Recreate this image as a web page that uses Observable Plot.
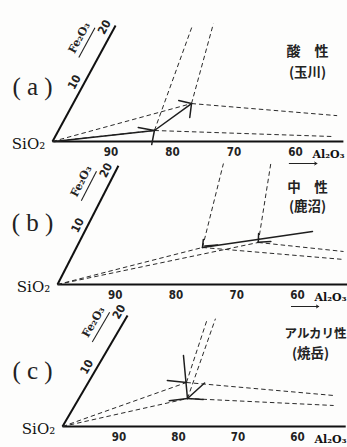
<!DOCTYPE html>
<html><head><meta charset="utf-8">
<script src="https://cdn.jsdelivr.net/npm/d3@7"></script>
<script src="https://cdn.jsdelivr.net/npm/@observablehq/plot@0.6"></script>
<style>
body{margin:0;background:#fdfdfc;}
#wrap{position:relative;width:347px;height:447px;overflow:hidden;background:#fdfdfc}
#wrap svg{position:absolute;left:0;background:transparent}
</style></head><body><div id="wrap"></div>
<script>
// ---- data (diagram coordinates: s = reading on bottom axis, f = Fe2O3) ----
const panelNames = ["( a )", "( b )", "( c )"];
const typeLabels = ["酸　性", "中　性", "アルカリ性"];
const siteLabels = ["(玉川)", "(鹿沼)", "(焼岳)"];
const sTicks = [90, 80, 70, 60];
const feTicks = [10, 20];

// panel (a) 酸性 玉川
const pointsA = [{s: 84.4, f: 2.0}, {s: 80.75, f: 6.9}];
const alEndA  = [{s: 54.75, f: 0.9}, {s: 56.0, f: 4.7}];
const feEndA  = [{s: 87.5, f: 21.1}, {s: 84.25, f: 21.4}];
const arrowsA = [
  {s1: 84.4, f1: 2.0, s2: 99.7, f2: 0.0, bend: -6},
  {s1: 84.4, f1: 2.0, s2: 80.75, f2: 6.9, bend: 8},
  {s1: 84.4, f1: 2.0, s2: 83.6, f2: -0.55, bend: 0},
  {s1: 84.4, f1: 2.0, s2: 87.3, f2: 2.55, bend: 0},
  {s1: 80.75, f1: 6.9, s2: 79.8, f2: 4.36, bend: 0},
  {s1: 80.75, f1: 6.9, s2: 83.1, f2: 7.45, bend: 0}
];

// panel (b) 中性 鹿沼
const pointsB = [{s: 79.26, f: 6.73}, {s: 70.5, f: 7.64}];
const alEndB  = [{s: 55.0, f: 4.55}, {s: 55.7, f: 6.0}];
const feEndB  = [{s: 82.9, f: 22.0}, {s: 75.1, f: 22.0}];
const arrowsB = [
  {s1: 79.26, f1: 6.73, s2: 62.5, f2: 9.64, bend: 0},
  {s1: 79.26, f1: 6.73, s2: 79.8, f2: 8.2, bend: 0},
  {s1: 70.5, f1: 7.64, s2: 71.2, f2: 9.27, bend: 0},
  {s1: 77.0, f1: 7.2, s2: 79.0, f2: 7.0, bend: 0},
  {s1: 68.5, f1: 7.8, s2: 70.6, f2: 7.7, bend: 0}
];

// panel (c) アルカリ性 焼岳
const pointsC = [{s: 83.5, f: 8.0}, {s: 81.75, f: 5.09}];
const alEndC  = [{s: 57.5, f: 5.64}, {s: 56.5, f: 3.82}];
const feEndC  = [{s: 86.25, f: 19.6}, {s: 84.9, f: 19.6}];
const arrowsC = [
  {s1: 81.75, f1: 5.09, s2: 86.65, f2: 12.9, bend: 0},
  {s1: 83.5, f1: 8.0, s2: 86.9, f2: 8.36, bend: 0},
  {s1: 81.75, f1: 5.09, s2: 79.0, f2: 4.9, bend: 0},
  {s1: 81.75, f1: 5.09, s2: 84.6, f2: 4.7, bend: 0},
  {s1: 81.75, f1: 5.09, s2: 80.4, f2: 7.9, bend: 0}
];

// ---- layout (pixels) ----
const cfgs = [
  {top: 0,   h: 149, ox: 52, oy: 141, ku: 6.15,  kfy: 5.5, kfx: 2.99, sMin: 52.7, feMax: 21.1,
   pts: pointsA, al: alEndA, fe: feEndA, arr: arrowsA, underline: true,
   letterY: 86, typeX: 307, typeY: 51, siteX: 307, siteY: 72, typeSize: 14},
  {top: 149, h: 149, ox: 57, oy: 135, ku: 6.075, kfy: 5.5, kfx: 2.82, sMin: 52.3, feMax: 21.6,
   pts: pointsB, al: alEndB, fe: feEndB, arr: arrowsB, underline: true,
   letterY: 73, typeX: 307, typeY: 38, siteX: 307, siteY: 57, typeSize: 13.5},
  {top: 298, h: 149, ox: 62, oy: 128, ku: 5.95,  kfy: 5.5, kfx: 3.22, sMin: 52.4, feMax: 20.2,
   pts: pointsC, al: alEndC, fe: feEndC, arr: arrowsC, underline: false,
   letterY: 72, typeX: 315, typeY: 35, siteX: 310, siteY: 55, typeSize: 12.5}
];

const ink = "#2a2a2a";
const dash = "4.5,3";
const cjk = "'Noto Sans CJK JP', sans-serif";

cfgs.forEach((c, i) => {
  const X = (s, f) => (100 - s) + f * c.kfx / c.ku;
  const ang = Math.atan2(c.kfy, c.kfx) * 180 / Math.PI; // axis angle
  const rad = ang * Math.PI / 180;
  const nx = -Math.sin(rad), ny = -Math.cos(rad); // left normal (screen)
  const origin = {s: 100, f: 0};
  const lines = (ends) => c.pts.map((p, j) => ({p, e: ends[j]}));
  const marks = [
    Plot.link([{a: origin, b: {s: c.sMin, f: 0}}], {
      x1: d => X(d.a.s, d.a.f), y1: d => d.a.f, x2: d => X(d.b.s, d.b.f), y2: d => d.b.f,
      stroke: "#111", strokeWidth: 2.2}),
    Plot.link([{a: origin, b: {s: 100, f: c.feMax}}], {
      x1: d => X(d.a.s, d.a.f), y1: d => d.a.f, x2: d => X(d.b.s, d.b.f), y2: d => d.b.f,
      stroke: "#111", strokeWidth: 2}),
    Plot.link(c.pts, {x1: X(100, 0), y1: 0, x2: d => X(d.s, d.f), y2: d => d.f,
      stroke: ink, strokeWidth: 1, strokeDasharray: dash}),
    Plot.link(lines(c.al), {x1: d => X(d.p.s, d.p.f), y1: d => d.p.f, x2: d => X(d.e.s, d.e.f), y2: d => d.e.f,
      stroke: ink, strokeWidth: 1, strokeDasharray: dash}),
    Plot.link(lines(c.fe), {x1: d => X(d.p.s, d.p.f), y1: d => d.p.f, x2: d => X(d.e.s, d.e.f), y2: d => d.e.f,
      stroke: ink, strokeWidth: 1, strokeDasharray: dash}),
    Plot.arrow(c.arr, {x1: d => X(d.s1, d.f1), y1: d => d.f1, x2: d => X(d.s2, d.f2), y2: d => d.f2,
      bend: d => d.bend, stroke: "#1e1e1e", strokeWidth: 1.5, headLength: 7, headAngle: 40}),
    Plot.text(sTicks, {x: d => X(d, 0), y: 0, dx: -3, dy: 11, text: d => String(d),
      fontFamily: "'DejaVu Sans Condensed', 'Liberation Sans Narrow', sans-serif", fontWeight: "bold",
      fontSize: 11.5, fill: "#222"}),
    Plot.text(feTicks, {x: d => X(100, d), y: d => d, dx: nx * 9, dy: ny * 9, text: d => String(d),
      rotate: -ang, fontFamily: "'DejaVu Sans Condensed', sans-serif", fontWeight: "bold",
      fontSize: 11.5, fill: "#222"}),
    Plot.text(["Fe₂O₃"], {x: X(100, 16.6), y: 16.6, dx: nx * 26, dy: ny * 26, rotate: -ang,
      fontFamily: "'DejaVu Serif', serif", fontWeight: "bold", fontSize: 11, fill: "#222"}),
    Plot.link([0], {x1: X(100, 13.8), y1: 13.8, x2: X(100, 19.2), y2: 19.2,
      dx: nx * 17, dy: ny * 17, stroke: "#222", strokeWidth: 1.1}),
    Plot.text(["SiO₂"], {x: X(100, 0), y: 0, dx: -24, dy: 3,
      fontFamily: "'DejaVu Serif', serif", fontSize: 15, fill: "#111"}),
    Plot.text(["Al₂O₃"], {x: X(60, 0), y: 0, dx: 30, dy: 13,
      fontFamily: "'DejaVu Serif', serif", fontWeight: "bold", fontSize: 11, fill: "#111"}),
    Plot.text([panelNames[i]], {frameAnchor: "top-left", dx: 32, dy: c.letterY,
      textAnchor: "middle", lineAnchor: "middle",
      fontFamily: "'Liberation Serif', serif", fontSize: 25, fill: "#222"}),
    Plot.text([typeLabels[i]], {frameAnchor: "top-left", dx: c.typeX, dy: c.typeY,
      textAnchor: "middle", lineAnchor: "middle",
      fontFamily: cjk, fontWeight: "bold", fontSize: c.typeSize, fill: "#222"}),
    Plot.text([siteLabels[i]], {frameAnchor: "top-left", dx: c.siteX, dy: c.siteY,
      textAnchor: "middle", lineAnchor: "middle",
      fontFamily: cjk, fontWeight: "bold", fontSize: 13.5, fill: "#222"})
  ];
  if (c.underline) {
    marks.push(Plot.arrow([0], {x1: X(61.5, 0), y1: 0, x2: X(57, 0), y2: 0, dy: 22,
      stroke: "#222", strokeWidth: 1, headLength: 4}));
  }
  const svg = Plot.plot({
    width: 347, height: c.h, margin: 0,
    style: {background: "transparent", overflow: "visible"},
    x: {domain: [0, 1], range: [c.ox, c.ox + c.ku], axis: null},
    y: {domain: [0, 1], range: [c.oy, c.oy - c.kfy], axis: null},
    marks
  });
  svg.style.top = c.top + "px";
  document.getElementById("wrap").appendChild(svg);
});
</script></body></html>
